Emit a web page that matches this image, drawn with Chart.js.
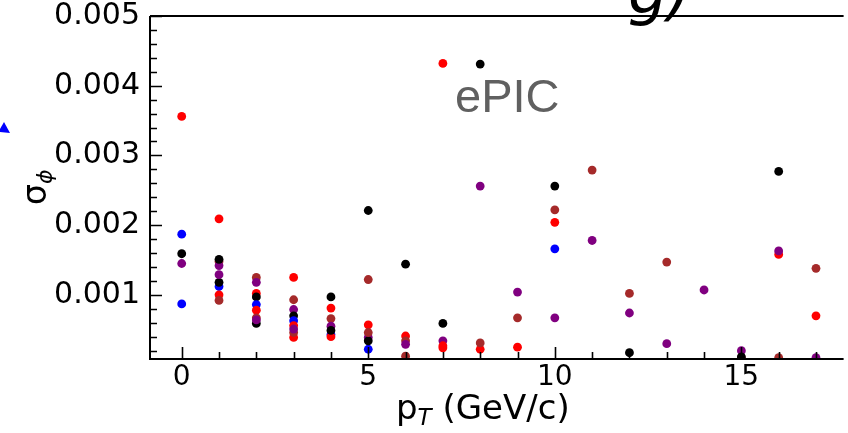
<!DOCTYPE html>
<html>
<head>
<meta charset="utf-8">
<script src="https://cdn.jsdelivr.net/npm/chart.js@4.4.0/dist/chart.umd.min.js"></script>
<style>
  body { margin: 0; background: #fff; }
  #wrap { width: 848px; height: 433px; }
</style>
</head>
<body>
<div id="wrap"><canvas id="grafico" width="848" height="433"></canvas></div>
<script>
// dados ------------------------------------------------------------------------
const pT = [0, 1, 2, 3, 4, 5, 6, 7, 8, 9, 10, 11, 12, 13, 14, 15, 16, 17];

const vermelhoA = [0.00356, 0.00209, 0.00102, 0.00125, 0.00081, 0.00057, 0.00041, 0.00432, 0.00022, 0.00025, 0.00204, null, null, null, null, null, 0.00158, 0.00070];
const vermelhoB = [null, 0.00100, 0.00078, 0.00056, 0.00040, null, null, 0.00027, null, null, null, null, null, null, null, null, null, null];
const vermelhoC = [null, null, null, 0.00039, null, null, null, 0.00024, null, null, null, null, null, null, null, null, null, null];
const azulA = [0.00187, 0.00112, 0.00086, 0.00063, 0.00043, 0.00022, null, null, null, null, 0.00166, null, null, null, null, null, null, null];
const azulB = [0.00087, null, null, null, null, null, null, null, null, null, null, null, null, null, null, null, null, null];
const pretoA = [0.00159, 0.00151, 0.00097, 0.00070, 0.00097, 0.00221, 0.00144, 0.00059, 0.00431, null, 0.00256, null, 0.00017, null, null, 0.00011, 0.00277, null];
const pretoB = [null, 0.00118, 0.00059, null, 0.00049, 0.00034, null, null, null, null, null, null, null, null, null, null, null, null];
const roxoA = [0.00145, 0.00142, 0.00118, 0.00079, 0.00055, 0.00039, 0.00029, 0.00034, 0.00256, 0.00104, 0.00067, 0.00178, 0.00074, 0.00030, 0.00107, 0.00020, 0.00163, 0.00010];
const roxoB = [null, 0.00129, 0.00064, 0.00051, null, null, null, null, null, null, null, null, null, null, null, null, null, null];
const marromA = [null, 0.00148, 0.00125, 0.00093, 0.00066, 0.00122, 0.00034, null, 0.00031, 0.00067, 0.00222, 0.00279, 0.00102, 0.00147, null, 0.00010, 0.00010, 0.00138];
const marromB = [null, 0.00092, 0.00067, 0.00046, null, 0.00046, 0.00012, null, null, null, null, null, null, null, null, null, null, null];

const xTicks = [0, 5, 10, 15];
const yTicks = [0.001, 0.002, 0.003, 0.004, 0.005];
//---------------------------------------------------------------------------------

function pontos(vals) {
  const out = [];
  vals.forEach((v, i) => { if (v !== null) out.push({ x: pT[i], y: v }); });
  return out;
}

function serie(vals, cor) {
  return {
    data: pontos(vals),
    backgroundColor: cor,
    borderWidth: 0,
    pointRadius: 4.4,
    pointHoverRadius: 4.4
  };
}

// eixos estilo matplotlib: bordas + ticks para dentro
const eixos = {
  id: 'eixos',
  afterDatasetsDraw(chart) {
    const ctx = chart.ctx;
    const a = chart.chartArea;
    const sx = chart.scales.x;
    const sy = chart.scales.y;
    ctx.save();
    ctx.strokeStyle = '#000';
    ctx.lineWidth = 2;
    ctx.beginPath();
    ctx.moveTo(a.left, a.top); ctx.lineTo(a.right, a.top);
    ctx.moveTo(a.left, a.top); ctx.lineTo(a.left, a.bottom);
    ctx.moveTo(a.left - 1, a.bottom); ctx.lineTo(a.right, a.bottom);
    ctx.stroke();

    ctx.lineWidth = 1.6;
    ctx.beginPath();
    for (let v = 0.0002; v < 0.005; v += 0.0002) {
      const y = Math.round(sy.getPixelForValue(v)) + 0.5;
      const major = Math.abs(v / 0.001 - Math.round(v / 0.001)) < 1e-6;
      ctx.moveTo(a.left, y); ctx.lineTo(a.left + (major ? 12 : 7), y);
    }
    for (let v = 0; v <= 17; v++) {
      const x = Math.round(sx.getPixelForValue(v)) + 0.5;
      const major = v % 5 === 0;
      ctx.moveTo(x, a.bottom); ctx.lineTo(x, a.bottom - (major ? 12 : 7));
    }
    ctx.stroke();
    ctx.restore();
  },
  afterDraw(chart) {
    const ctx = chart.ctx;
    ctx.save();
    ctx.fillStyle = '#000';
    ctx.textBaseline = 'alphabetic';

    // titulo do eixo x: p_T (GeV/c)
    ctx.font = '34px "DejaVu Sans"';
    let x = 396;
    const yb = 419;
    ctx.fillText('p', x, yb);
    x += ctx.measureText('p').width;
    ctx.font = 'italic 23px "DejaVu Sans"';
    ctx.fillText('T', x, yb + 6);
    x += ctx.measureText('T').width;
    ctx.font = '34px "DejaVu Sans"';
    ctx.fillText(' (GeV/c)', x, yb);

    // titulo do eixo y: sigma_phi
    ctx.save();
    ctx.translate(46, 205);
    ctx.rotate(-Math.PI / 2);
    ctx.font = '33px "DejaVu Sans"';
    ctx.fillText('σ', 0, 0);
    const w = ctx.measureText('σ').width;
    ctx.font = 'italic 22px "DejaVu Sans"';
    ctx.fillText('ϕ', w, 6);
    ctx.restore();

    // rotulo ePIC
    ctx.fillStyle = '#606060';
    ctx.font = '47px "Liberation Sans"';
    ctx.fillText('ePIC', 455, 112);

    // pedaco do rotulo cortado no topo
    ctx.fillStyle = '#000';
    ctx.font = 'italic 62px "DejaVu Sans"';
    ctx.fillText('g)', 628, 13);

    // ponta de seta azul cortada na esquerda
    ctx.fillStyle = '#0000ff';
    ctx.beginPath();
    ctx.moveTo(0, 129); ctx.lineTo(4, 122); ctx.lineTo(10, 133); ctx.lineTo(0, 132);
    ctx.closePath();
    ctx.fill();
    ctx.restore();
  }
};

const ctx = document.getElementById('grafico').getContext('2d');
const grafico = new Chart(ctx, {
  type: 'scatter',
  data: {
    datasets: [
      serie(roxoB, '#800080'),
      serie(marromB, '#a52a2a'),
      serie(pretoB, '#000000'),
      serie(azulB, '#0000ff'),
      serie(vermelhoC, '#ff0000'),
      serie(vermelhoB, '#ff0000'),
      serie(azulA, '#0000ff'),
      serie(pretoA, '#000000'),
      serie(roxoA, '#800080'),
      serie(marromA, '#a52a2a'),
      serie(vermelhoA, '#ff0000')
    ]
  },
  options: {
    responsive: false,
    animation: false,
    layout: { padding: { left: 0, top: 16, right: 0, bottom: 0 } },
    plugins: {
      legend: { display: false },
      tooltip: { enabled: false }
    },
    scales: {
      x: {
        type: 'linear',
        min: -0.85,
        max: 17.74,
        grid: { display: false, drawTicks: false },
        border: { display: false },
        afterFit: s => { s.height = 74; s.paddingLeft = 0; s.paddingRight = 0; },
        afterBuildTicks: s => { s.ticks = xTicks.map(v => ({ value: v })); },
        ticks: {
          color: '#000',
          padding: 5,
          maxRotation: 0,
          font: { family: 'DejaVu Sans', size: 28, lineHeight: 1 },
          callback: v => String(v)
        }
      },
      y: {
        type: 'linear',
        min: 0.00008,
        max: 0.005,
        grid: { display: false, drawTicks: false },
        border: { display: false },
        afterFit: s => { s.width = 150; s.paddingTop = 0; s.paddingBottom = 0; },
        afterBuildTicks: s => { s.ticks = yTicks.map(v => ({ value: v })); },
        ticks: {
          color: '#000',
          padding: 10,
          font: { family: 'DejaVu Sans', size: 30, lineHeight: 1 },
          callback: v => v.toFixed(3)
        }
      }
    }
  },
  plugins: [eixos]
});
</script>
</body>
</html>
